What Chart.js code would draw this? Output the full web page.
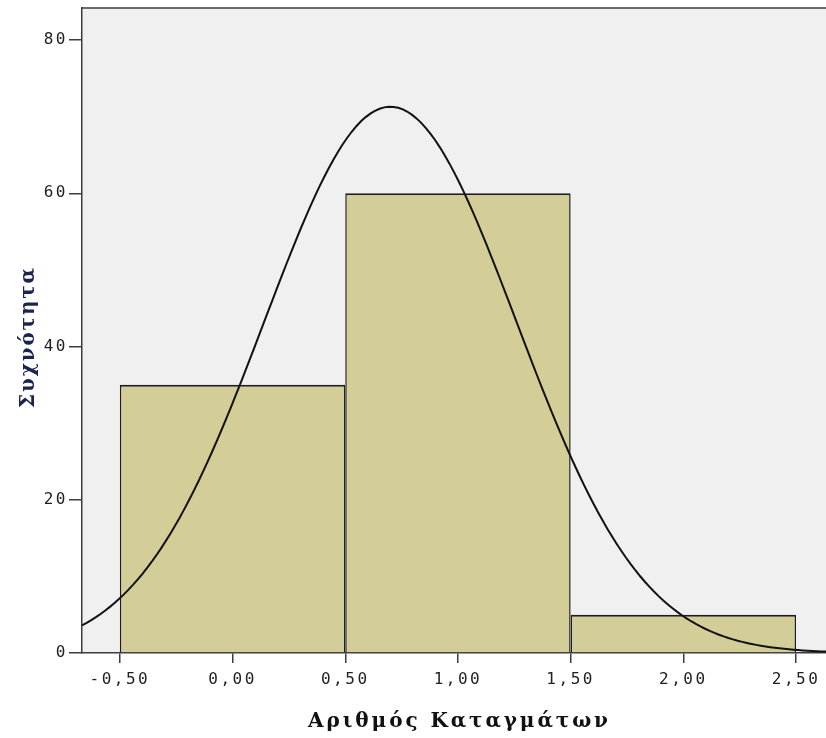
<!DOCTYPE html>
<html>
<head>
<meta charset="utf-8">
<script src="https://cdn.jsdelivr.net/npm/chart.js@4/dist/chart.umd.min.js"></script>
<style>
  html, body { margin: 0; padding: 0; background: #ffffff; }
  #wrap { width: 826px; height: 738px; }
</style>
</head>
<body>
<div id="wrap"><canvas id="c" width="826" height="738"></canvas></div>
<script>
// ---- data ----
const BIN_CENTERS = [0, 1, 2];          // Αριθμός Καταγμάτων (bin centres, width 1)
const BIN_COUNTS  = [35, 60, 5];        // Συχνότητα
const BIN_WIDTH   = 1;
const XTICK_VALUES = [-0.5, 0, 0.5, 1, 1.5, 2, 2.5];
const XTICK_LABELS = ['-0,50', '0,00', '0,50', '1,00', '1,50', '2,00', '2,50'];
const YTICK_VALUES = [0, 20, 40, 60, 80];
const X_TITLE = 'Αριθμός Καταγμάτων';
const Y_TITLE = 'Συχνότητα';
const X_MIN = -0.668, X_MAX = 2.633;
const Y_MIN = 0, Y_MAX = 84.18;

// ---- fitted normal curve (SPSS "display normal curve"), from the bins' mean & sd ----
const N = BIN_COUNTS.reduce((a, b) => a + b, 0);
const MEAN = BIN_CENTERS.reduce((s, x, i) => s + x * BIN_COUNTS[i], 0) / N;
const SD = Math.sqrt(BIN_CENTERS.reduce((s, x, i) => s + BIN_COUNTS[i] * (x - MEAN) ** 2, 0) / (N - 1));
const CURVE_STEPS = 160;
const curvePoints = [];
for (let k = 0; k <= CURVE_STEPS; k++) {
  const x = X_MIN + (X_MAX - X_MIN) * k / CURVE_STEPS;
  const z = (x - MEAN) / SD;
  curvePoints.push({ x, y: N * BIN_WIDTH * Math.exp(-0.5 * z * z) / (SD * Math.sqrt(2 * Math.PI)) });
}

const TICK_FONT = { family: '"DejaVu Sans Mono", monospace', size: 16 };
const AXIS_COLOR = '#3c3c3c';

const framePlugin = {
  id: 'frame',
  beforeDraw(chart) {
    const { ctx, chartArea: a } = chart;
    ctx.save();
    ctx.fillStyle = '#f0f0f0';
    ctx.fillRect(a.left, a.top, a.right - a.left, a.bottom - a.top);
    ctx.strokeStyle = AXIS_COLOR;
    ctx.lineWidth = 1.5;
    ctx.beginPath();
    ctx.moveTo(a.left, a.top);
    ctx.lineTo(a.right, a.top);
    ctx.stroke();
    ctx.restore();
    ctx.letterSpacing = '2.5px';   // spaced tick labels
  },
  beforeDatasetsDraw(chart) {
    chart.ctx.letterSpacing = '0px';
  },
  afterDraw(chart) {
    const ctx = chart.ctx;
    const drawSpaced = (text, targetW) => {
      ctx.letterSpacing = '0px';
      const w = ctx.measureText(text).width;
      ctx.letterSpacing = ((targetW - w) / (text.length - 1)) + 'px';
      ctx.fillText(text, 0, 0);
      ctx.letterSpacing = '0px';
    };
    // x title
    ctx.save();
    ctx.font = 'bold 20px "DejaVu Serif", serif';
    ctx.fillStyle = '#111111';
    ctx.textAlign = 'left';
    ctx.textBaseline = 'alphabetic';
    ctx.translate(308, 727);
    drawSpaced(X_TITLE, 300);
    ctx.restore();
    // y title
    ctx.save();
    ctx.font = 'bold 20px "DejaVu Serif", serif';
    ctx.fillStyle = '#1b2450';
    ctx.textAlign = 'left';
    ctx.textBaseline = 'alphabetic';
    ctx.translate(34, 408);
    ctx.rotate(-Math.PI / 2);
    drawSpaced(Y_TITLE, 140);
    ctx.restore();
  }
};

new Chart(document.getElementById('c'), {
  data: {
    datasets: [
      {
        type: 'line',
        label: 'Normal',
        data: curvePoints,
        borderColor: '#111111',
        borderWidth: 2,
        pointRadius: 0,
        tension: 0,
        fill: false
      },
      {
        type: 'bar',
        label: 'Συχνότητα',
        data: BIN_CENTERS.map((x, i) => ({ x, y: BIN_COUNTS[i] })),
        backgroundColor: '#d3ce98',
        borderColor: '#1e1e1e',
        borderWidth: { top: 2, left: 1.5, right: 1.5, bottom: 0 },
        borderSkipped: false,
        grouped: false,
        categoryPercentage: 1,
        barPercentage: 2   // tick spacing is half a bin, so the bar spans one full bin
      }
    ]
  },
  options: {
    responsive: false,
    animation: false,
    devicePixelRatio: 1,
    layout: { padding: { top: 8, right: 0, bottom: 0, left: 0 } },
    plugins: { legend: { display: false }, tooltip: { enabled: false } },
    scales: {
      x: {
        type: 'linear',
        offset: false,
        min: X_MIN,
        max: X_MAX,
        afterBuildTicks: s => { s.ticks = XTICK_VALUES.map(v => ({ value: v })); },
        afterFit: s => { s.height = 85; s.paddingLeft = 0; s.paddingRight = 0; },
        ticks: {
          callback: (v, i) => XTICK_LABELS[i],
          font: TICK_FONT,
          color: '#222222',
          padding: 7,
          maxRotation: 0,
          autoSkip: false
        },
        grid: { offset: false, drawOnChartArea: false, drawTicks: true, tickLength: 10, color: AXIS_COLOR, lineWidth: 1.5 },
        border: { display: true, color: AXIS_COLOR, width: 1.5 }
      },
      y: {
        type: 'linear',
        min: Y_MIN,
        max: Y_MAX,
        afterBuildTicks: s => { s.ticks = YTICK_VALUES.map(v => ({ value: v })); },
        afterFit: s => { s.width = 82; s.paddingTop = 0; s.paddingBottom = 0; },
        ticks: {
          callback: v => String(v),
          font: TICK_FONT,
          color: '#222222',
          padding: 1
        },
        grid: { drawOnChartArea: false, drawTicks: true, tickLength: 13, color: AXIS_COLOR, lineWidth: 1.5 },
        border: { display: true, color: AXIS_COLOR, width: 1.5 }
      }
    }
  },
  plugins: [framePlugin]
});
</script>
</body>
</html>
